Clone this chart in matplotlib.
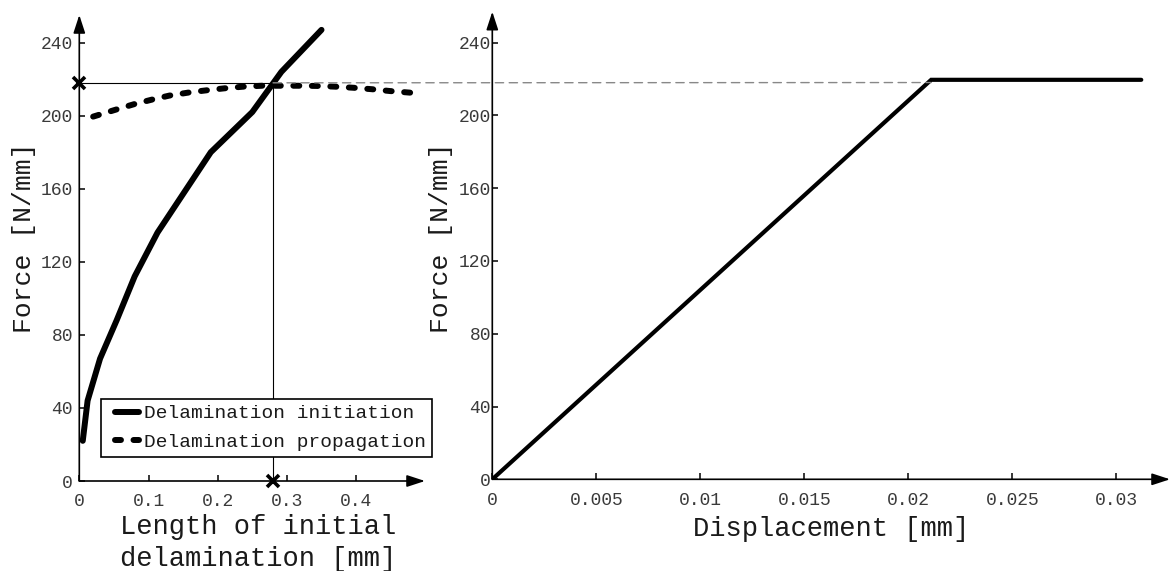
import matplotlib
matplotlib.use("Agg")
import numpy as np
import matplotlib.pyplot as plt
from matplotlib.patches import ConnectionPatch

plt.rcParams["font.family"] = ["Liberation Mono", "DejaVu Sans Mono"]

# Left panel: force vs. length of initial delamination
init_len = [0.005, 0.012, 0.03, 0.054, 0.08, 0.113, 0.19, 0.25, 0.292, 0.35]
init_force = [22, 44, 67, 88, 112, 136, 180, 202, 224, 247]

prop_len = [0.02, 0.05, 0.08, 0.107, 0.13, 0.16, 0.186, 0.21, 0.237, 0.264,
            0.29, 0.316, 0.343, 0.37, 0.396, 0.423, 0.449, 0.482]
prop_force = [199.5, 203, 206.4, 209, 211, 212.8, 214, 215, 215.9, 216.4,
              216.4, 216.4, 216.3, 215.9, 215.3, 214.5, 213.5, 212.5]

crit_len = 0.28
crit_force = 218

# Right panel: force vs. displacement
disp = [0.0, 0.0211, 0.0312]
disp_force = [0.0, 219.5, 219.5]

left_xticks = [0, 0.1, 0.2, 0.3, 0.4]
left_xlabels = ["0", "0.1", "0.2", "0.3", "0.4"]
right_xticks = [0, 0.005, 0.01, 0.015, 0.02, 0.025, 0.03]
right_xlabels = ["0", "0.005", "0.01", "0.015", "0.02", "0.025", "0.03"]
force_ticks = [0, 40, 80, 120, 160, 200, 240]

W, H = 1170, 571
fig = plt.figure(figsize=(W / 100, H / 100), dpi=100)

axL = fig.add_axes([79.3 / W, (H - 481) / H, (425 - 79.3) / W, (481 - 15) / H])
axR = fig.add_axes([492.3 / W, (H - 479.3) / H, (W - 492.3) / W, (479.3 - 11.7) / H])

axL.set_xlim(0, (425 - 79.3) / 692)
axL.set_ylim(0, (481 - 15) / 1.8265)
axR.set_xlim(0, (W - 492.3) / 20800)
axR.set_ylim(0, (479.3 - 11.7) / 1.82)

tick_col = "#3a3a3a"
label_col = "#1a1a1a"

for ax in (axL, axR):
    for s in ax.spines.values():
        s.set_visible(False)
    ax.patch.set_alpha(0)
    ax.set_yticks(force_ticks)
    ax.set_yticklabels([str(t) for t in force_ticks])
    ax.tick_params(direction="in", length=4, width=1.1, color="k",
                   labelsize=13, labelcolor=tick_col)
    ax.tick_params(axis="x", pad=9)
    arrow = dict(arrowstyle="-|>,head_length=0.55,head_width=0.18",
                 mutation_scale=20, lw=1.2, color="k", shrinkA=0, shrinkB=0)
    ax.annotate("", xy=(1, 0), xytext=(0, 0), xycoords="axes fraction",
                textcoords="axes fraction", arrowprops=arrow, annotation_clip=False)
    ax.annotate("", xy=(0, 1), xytext=(0, 0), xycoords="axes fraction",
                textcoords="axes fraction", arrowprops=arrow, annotation_clip=False)

axL.tick_params(axis="y", pad=4.5)
axR.tick_params(axis="y", pad=1)

axL.set_xticks(left_xticks)
axL.set_xticklabels(left_xlabels)
axR.set_xticks(right_xticks)
axR.set_xticklabels(right_xlabels)

# Critical point guide lines
axL.plot([0, crit_len], [crit_force, crit_force], color="k", lw=0.8, zorder=2)
axL.plot([crit_len, crit_len], [0, crit_force], color="k", lw=0.8, zorder=2)

axL.plot(init_len, init_force, color="k", lw=4.3, solid_capstyle="round",
         solid_joinstyle="round", label="Delamination initiation", zorder=3)
axL.plot(prop_len, prop_force, color="k", lw=4.3, dashes=(1.0, 2.1),
         dash_capstyle="round", label="Delamination propagation", zorder=3)

axL.plot([0, crit_len], [crit_force, 0], linestyle="none", marker="x",
         markersize=9, markeredgewidth=2.6, color="k", clip_on=False, zorder=5)

leg = axL.legend(loc="upper left", bbox_to_anchor=(101 / W, 1 - 399 / H),
                 bbox_transform=fig.transFigure, borderaxespad=0,
                 prop={"family": "Liberation Mono", "size": 14},
                 handlelength=1.8, handletextpad=0.1, labelspacing=0.55,
                 borderpad=0.3, fancybox=False, framealpha=1, edgecolor="k")
leg.get_frame().set_linewidth(1.2)
for t in leg.get_texts():
    t.set_color(label_col)
# keep the legend samples short, leaving a margin on their left
for ln in leg.get_lines():
    xd = np.asarray(ln.get_xdata(), dtype=float)
    ln.set_xdata(np.linspace(xd[0] + 6.0, xd[-1] - 2.0, len(xd)))

axR.plot(disp, disp_force, color="k", lw=3.0, solid_capstyle="round",
         solid_joinstyle="miter", zorder=3)

# Dashed link between the critical force and the plateau
link = ConnectionPatch(xyA=(crit_len, crit_force), coordsA=axL.transData,
                       xyB=(disp[1], crit_force), coordsB=axR.transData,
                       color="#888888", lw=1.0, linestyle=(0, (6, 4)), zorder=1)
fig.add_artist(link)

axL.set_ylabel("Force [N/mm]", fontsize=19, color=label_col)
axR.set_ylabel("Force [N/mm]", fontsize=19, color=label_col)
axL.yaxis.set_label_coords(24 / W, 1 - 238 / H, transform=fig.transFigure)
axR.yaxis.set_label_coords(441 / W, 1 - 238 / H, transform=fig.transFigure)
axL.yaxis.label.set_va("center")
axR.yaxis.label.set_va("center")

axL.set_xlabel("Length of initial\ndelamination [mm]", fontsize=19.5,
               color=label_col, linespacing=1.25)
axR.set_xlabel("Displacement [mm]", fontsize=19.5, color=label_col)
axL.xaxis.set_label_coords(258 / W, 1 - 543 / H, transform=fig.transFigure)
axR.xaxis.set_label_coords(831 / W, 1 - 529 / H, transform=fig.transFigure)
axL.xaxis.label.set_va("center")
axR.xaxis.label.set_va("center")

fig.savefig("out.png", dpi=100, facecolor="white")
